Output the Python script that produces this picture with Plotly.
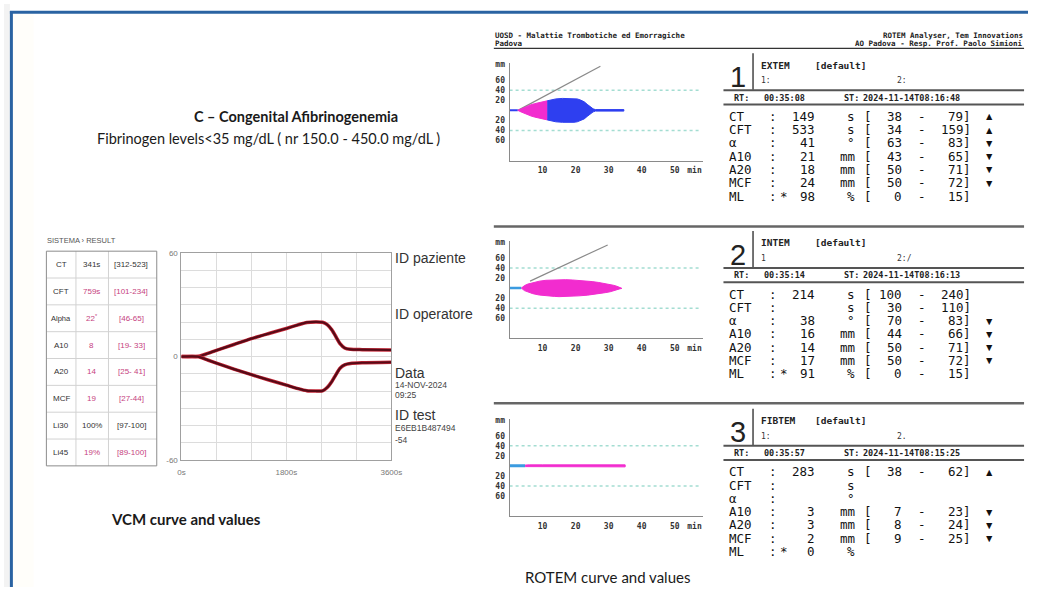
import plotly.graph_objects as go

W, H = 1039, 592

# ---------------- VCM curve (amplitude in mm vs time in s) ----------------
vcm_time_s = [0, 280, 450, 600, 900, 1200, 1500, 1800, 2000, 2150, 2300, 2420,
              2500, 2580, 2650, 2720, 2800, 2900, 3100, 3600]
vcm_upper_mm = [0, 0, 1.8, 3.6, 7.0, 10.4, 13.4, 16.3, 18.4, 19.8, 20.1, 19.9,
                18.5, 15.5, 11.5, 7.5, 5.0, 4.2, 4.0, 3.8]
vcm_lower_mm = [0, 0, -2.0, -3.8, -7.3, -10.5, -13.6, -16.6, -18.6, -19.8, -20.0, -19.9,
                -18.0, -14.5, -10.5, -6.8, -4.8, -4.0, -3.6, -3.3]

vcm_params = ["CT", "CFT", "Alpha", "A10", "A20", "MCF", "Li30", "Li45"]
vcm_values = ["341s", "759s", "22<sup>*</sup>", "8", "14", "19", "100%", "19%"]
vcm_ranges = ["[312-523]", "[101-234]", "[46-65]", "[19- 33]", "[25- 41]",
              "[27-44]", "[97-100]", "[89-100]"]
vcm_flagged = [False, True, True, True, True, True, False, True]

# ---------------- ROTEM temograms (amplitude in mm vs time in min) ----------------
rotem_tests = ["EXTEM", "INTEM", "FIBTEM"]
rotem_ct_min = [149 / 60, 214 / 60, 283 / 60]

extem_t_early = [2.48, 3.5, 4.5, 5.5, 6.5, 7.5, 8.5, 9.5, 10.5, 11.4]
extem_a_early = [0, 3.2, 6.3, 8.9, 11.2, 13.2, 15.0, 16.6, 17.9, 19.0]
extem_t_late = [11.4, 12.5, 14, 16, 18, 19.5, 20.5, 21.5, 22.6, 23.5, 24.5, 25.3, 26, 30, 34.6]
extem_a_late = [19.0, 21.0, 22.8, 23.8, 24.0, 23.8, 22.8, 20.5, 17.0, 12.0, 6.5, 3.0, 1.5, 1.5, 1.5]

intem_t = [3.57, 4.5, 5.5, 7, 9, 11, 13.6, 15, 17, 19, 21, 23.6, 25, 27, 29, 30.5,
           31.5, 32.5, 33.3, 34]
intem_a = [0, 5, 8, 11, 13.8, 15.6, 16.5, 17, 16.8, 16.2, 15.4, 14, 13, 11.2, 9, 7.2,
           5.6, 3.6, 1.6, 0.5]

fibtem_t = [4.72, 6, 10, 14.7, 20, 24.7, 30, 35]
fibtem_a = [1.5, 2, 2, 2, 2, 2, 2, 2]

extem_alpha_t = [2.5, 27.5]
extem_alpha_a = [0, 88]
intem_alpha_t = [6.2, 29.7]
intem_alpha_a = [14, 86]

rotem_ref_mm = [40, -40]

rotem_params = ["CT", "CFT", "α", "A10", "A20", "MCF", "ML"]
rotem_units = ["s", "s", "°", "mm", "mm", "mm", "%"]
extem_values = ["149", "533", "41", "21", "18", "24", "98"]
extem_low = ["38", "34", "63", "43", "50", "50", "0"]
extem_high = ["79", "159", "83", "65", "71", "72", "15"]
extem_flags = ["▲", "▲", "▼", "▼", "▼", "▼", ""]
intem_values = ["214", "", "38", "16", "14", "17", "91"]
intem_low = ["100", "30", "70", "44", "50", "50", "0"]
intem_high = ["240", "110", "83", "66", "71", "72", "15"]
intem_flags = ["", "", "▼", "▼", "▼", "▼", ""]
fibtem_values = ["283", "", "", "3", "3", "2", "0"]
fibtem_low = ["38", "", "", "7", "8", "9", ""]
fibtem_high = ["62", "", "", "23", "24", "25", ""]
fibtem_flags = ["▲", "", "", "▼", "▼", "▼", ""]
rotem_run_time = ["00:35:08", "00:35:14", "00:35:57"]
rotem_start = ["2024-11-14T08:16:48", "2024-11-14T08:16:13", "2024-11-14T08:15:25"]
rotem_ch1 = ["1:", "1", "1:"]
rotem_ch2 = ["2:", "2:/", "2."]

PINK = "#f22ccf"
BLUE = "#2e3ff0"
LIGHT_BLUE = "#3b9be0"
VCM_PINK = "#c63f80"
MONO = "DejaVu Sans Mono"
SANS = "Liberation Sans"
TITLE = "Lato"


def X(px):
    return px / W


def Y(py):
    return 1 - py / H


annotations = []
shapes = []


def text(x, y, s, size, color="#1e1e1e", family=SANS, anchor="left", weight="normal"):
    annotations.append(dict(
        x=X(x), y=Y(y), xref="paper", yref="paper", text=s, showarrow=False,
        xanchor=anchor, yanchor="middle", borderpad=0,
        font=dict(size=size, color=color, family=family, weight=weight)))


def line(x0, y0, x1, y1, color, width):
    shapes.append(dict(type="line", xref="paper", yref="paper",
                       x0=X(x0), y0=Y(y0), x1=X(x1), y1=Y(y1),
                       line=dict(color=color, width=width)))


def rect(x0, y0, x1, y1, fill, color=None, width=0):
    shapes.append(dict(type="rect", xref="paper", yref="paper", layer="below",
                       x0=X(x0), y0=Y(y0), x1=X(x1), y1=Y(y1), fillcolor=fill,
                       line=dict(color=color or fill, width=width)))


fig = go.Figure()

# ---------------- page frame ----------------
rect(0, 0, 6, H, "#f3f3f3")
rect(9, 10, 30, H, "#fffefa")
line(7.5, 7, 7.5, H, "#2a63a2", 3)
line(6, 8.5, W, 8.5, "#2a63a2", 3)

# ---------------- titles ----------------
text(296, 114, "C – Congenital Afibrinogenemia", 14.5, "#1a1a1a", TITLE, "center", "bold")
text(268, 137, "Fibrinogen levels<35 mg/dL ( nr 150.0 - 450.0 mg/dL )", 14.5, "#1a1a1a", TITLE, "center")
text(185, 523, "VCM curve and values", 15, "#1a1a1a", TITLE, "center", "bold")
text(612, 582, "ROTEM curve and values", 15, "#1a1a1a", TITLE, "center")

# ---------------- VCM table ----------------
text(43, 240, "SISTEMA › RESULT", 7.5, "#555")
tab_x0, tab_x1, tab_y0, tab_y1 = 43, 155, 251, 469
row_h = (tab_y1 - tab_y0) / len(vcm_params)
for i in range(1, len(vcm_params)):
    line(tab_x0, tab_y0 + i * row_h, tab_x1, tab_y0 + i * row_h, "#d2d2d2", 1)
line(73, tab_y0, 73, tab_y1, "#d2d2d2", 1)
line(106, tab_y0, 106, tab_y1, "#d2d2d2", 1)
shapes.append(dict(type="rect", xref="paper", yref="paper",
                   x0=X(tab_x0), y0=Y(tab_y0), x1=X(tab_x1), y1=Y(tab_y1),
                   line=dict(color="#8c8c8c", width=1)))
for i, p in enumerate(vcm_params):
    yc = tab_y0 + (i + 0.5) * row_h
    col = VCM_PINK if vcm_flagged[i] else "#333"
    text(58, yc, p, 8 if p != "Alpha" else 7.5, "#333", SANS, "center")
    text(89, yc, vcm_values[i], 8, col, SANS, "center")
    text(129, yc, vcm_ranges[i], 8, col, SANS, "center")

# ---------------- VCM curve ----------------
for series in (vcm_upper_mm, vcm_lower_mm):
    fig.add_trace(go.Scatter(x=vcm_time_s, y=series, mode="lines", xaxis="x", yaxis="y",
                             line=dict(color="#c82838", width=3.5, shape="spline", smoothing=0.6),
                             hoverinfo="skip", showlegend=False))
    fig.add_trace(go.Scatter(x=vcm_time_s, y=series, mode="lines", xaxis="x", yaxis="y",
                             line=dict(color="#560b17", width=2.2, shape="spline", smoothing=0.6),
                             hoverinfo="skip", showlegend=False))

text(396, 258, "ID paziente", 14, "#333")
text(396, 315, "ID operatore", 14, "#333")
text(396, 375, "Data", 14, "#333")
text(396, 387, "14-NOV-2024", 8.5, "#444")
text(396, 397, "09:25", 8.5, "#444")
text(396, 417, "ID test", 14, "#333")
text(396, 431, "E6EB1B487494", 8.5, "#444")
text(396, 443, "-54", 8.5, "#444")

# ---------------- ROTEM header ----------------
text(497, 31.5, "UOSD - Malattie Trombotiche ed Emorragiche", 7.5, "#222", MONO, weight="bold")
text(497, 40.5, "Padova", 7.5, "#222", MONO, weight="bold")
text(1035, 31.5, "ROTEM Analyser, Tem Innovations", 7.5, "#222", MONO, "right", "bold")
text(1035, 40.5, "AO Padova - Resp. Prof. Paolo Simioni", 7.5, "#222", MONO, "right", "bold")
line(497, 45, 1035, 45, "#333", 1.2)
line(497, 226, 1035, 226, "#666", 2.5)
line(497, 405.5, 1035, 405.5, "#666", 2.5)

PANEL_STEP = 180.5
rotem_values = [extem_values, intem_values, fibtem_values]
rotem_low = [extem_low, intem_low, fibtem_low]
rotem_high = [extem_high, intem_high, fibtem_high]
rotem_flags = [extem_flags, intem_flags, fibtem_flags]

layout_axes = {}
for k in range(3):
    dy = PANEL_STEP * k
    base = 108 + dy
    xa, ya = f"x{k + 2}", f"y{k + 2}"

    # amplitude traces
    def blob(t, a, color):
        fig.add_trace(go.Scatter(
            x=t + t[::-1], y=a + [-v for v in a[::-1]], mode="lines", fill="toself",
            fillcolor=color, line=dict(color=color, width=1), xaxis=xa, yaxis=ya,
            hoverinfo="skip", showlegend=False))

    for lvl in rotem_ref_mm:
        fig.add_trace(go.Scatter(x=[0, 58], y=[lvl, lvl], mode="lines", xaxis=xa, yaxis=ya,
                                 line=dict(color="#a4ddd2", width=1.5, dash="dot"),
                                 hoverinfo="skip", showlegend=False))
    if k == 0:
        fig.add_trace(go.Scatter(x=extem_alpha_t, y=extem_alpha_a, mode="lines", xaxis=xa, yaxis=ya,
                                 line=dict(color="#8a8a8a", width=1.2), hoverinfo="skip", showlegend=False))
        fig.add_trace(go.Scatter(x=[0, rotem_ct_min[k]], y=[0, 0], mode="lines", xaxis=xa, yaxis=ya,
                                 line=dict(color=BLUE, width=2), hoverinfo="skip", showlegend=False))
        blob(extem_t_early, extem_a_early, PINK)
        blob(extem_t_late, extem_a_late, BLUE)
    elif k == 1:
        fig.add_trace(go.Scatter(x=intem_alpha_t, y=intem_alpha_a, mode="lines", xaxis=xa, yaxis=ya,
                                 line=dict(color="#8a8a8a", width=1.2), hoverinfo="skip", showlegend=False))
        fig.add_trace(go.Scatter(x=[0, rotem_ct_min[k]], y=[0, 0], mode="lines", xaxis=xa, yaxis=ya,
                                 line=dict(color=LIGHT_BLUE, width=2.5), hoverinfo="skip", showlegend=False))
        blob(intem_t, intem_a, PINK)
    else:
        fig.add_trace(go.Scatter(x=[0, rotem_ct_min[k]], y=[0, 0], mode="lines", xaxis=xa, yaxis=ya,
                                 line=dict(color=LIGHT_BLUE, width=3), hoverinfo="skip", showlegend=False))
        blob(fibtem_t, fibtem_a, PINK)

    tickfont = dict(size=8, color="#333", family=MONO, weight="bold")
    layout_axes[f"xaxis{k + 2}"] = dict(
        domain=[X(513), X(709)], range=[0, 58.5], anchor=ya,
        tickvals=[10, 20, 30, 40, 50, 56], ticktext=["10", "20", "30", "40", "50", "min"],
        showgrid=False, zeroline=False, showline=True, linecolor="#8a8a8a", linewidth=1,
        ticks="", tickfont=tickfont, ticklabelstandoff=2, fixedrange=True)
    layout_axes[f"yaxis{k + 2}"] = dict(
        domain=[Y(base + 51), Y(base - 48)], range=[-51 / 0.51, 48 / 0.51], anchor=xa,
        tickvals=[-60, -40, -20, 20, 40, 60, 91],
        ticktext=["60", "40", "20", "20", "40", "60", "mm"],
        showgrid=False, zeroline=False, showline=True, linecolor="#8a8a8a", linewidth=1,
        ticks="", tickfont=tickfont, ticklabelstandoff=2, fixedrange=True)

    # result block
    text(745, 74 + dy, str(k + 1), 29, "#222", SANS, "center")
    line(760, 50 + dy, 760, 87 + dy, "#444", 1.5)
    text(767, 62 + dy, rotem_tests[k], 9.5, "#222", MONO, weight="bold")
    text(822, 62 + dy, "[default]", 9.5, "#222", MONO, weight="bold")
    text(767, 78 + dy, rotem_ch1[k], 8, "#333", MONO)
    text(905, 78 + dy, rotem_ch2[k], 8, "#333", MONO)
    line(730, 87.5 + dy, 1035, 87.5 + dy, "#555", 2)
    text(740, 95 + dy, "RT:", 8.5, "#222", MONO, weight="bold")
    text(770, 95 + dy, rotem_run_time[k], 8.5, "#222", MONO, weight="bold")
    text(851, 95 + dy, "ST:", 8.5, "#222", MONO, weight="bold")
    text(871, 95 + dy, rotem_start[k], 8.5, "#222", MONO, weight="bold")
    line(730, 102 + dy, 1035, 102 + dy, "#555", 2)

    for i, p in enumerate(rotem_params):
        yr = 114 + 13.5 * i + dy
        text(735, yr, p, 12.5, "#111", MONO)
        text(780, yr, ":", 12.5, "#111", MONO, "center")
        if p == "ML":
            text(791, yr, "*", 12.5, "#111", MONO, "center")
        if rotem_values[k][i]:
            text(824, yr, rotem_values[k][i], 12.5, "#111", MONO, "right")
        text(864, yr, rotem_units[i], 12.5, "#111", MONO, "right")
        if rotem_low[k][i]:
            text(877, yr, "[", 12.5, "#111", MONO, "center")
            text(912, yr, rotem_low[k][i], 12.5, "#111", MONO, "right")
            text(931, yr, "-", 12.5, "#111", MONO, "center")
            text(982, yr, rotem_high[k][i] + "]", 12.5, "#111", MONO, "right")
        if rotem_flags[k][i]:
            text(999, yr, rotem_flags[k][i], 10.5, "#111", SANS, "center")

vcm_tickfont = dict(size=8, color="#777", family=SANS)
fig.update_layout(
    width=W, height=H, autosize=False,
    margin=dict(l=0, r=0, t=0, b=0),
    paper_bgcolor="white", plot_bgcolor="white",
    showlegend=False,
    xaxis=dict(domain=[X(180), X(393)], range=[0, 3600], anchor="y",
               tickvals=list(range(0, 3601, 600)),
               ticktext=["0s", "", "", "1800s", "", "", "3600s"],
               showgrid=True, gridcolor="#dcdcdc", gridwidth=1, zeroline=False,
               showline=True, linecolor="#a0a0a0", mirror=True, ticks="",
               tickfont=vcm_tickfont, ticklabelstandoff=4, fixedrange=True),
    yaxis=dict(domain=[Y(463), Y(253)], range=[-60, 60], anchor="x",
               tickvals=list(range(-60, 61, 10)),
               ticktext=["-60", "", "", "", "", "", "0", "", "", "", "", "", "60"],
               showgrid=True, gridcolor="#dcdcdc", gridwidth=1, zeroline=False,
               showline=True, linecolor="#a0a0a0", mirror=True, ticks="",
               tickfont=vcm_tickfont, ticklabelstandoff=1, fixedrange=True),
    annotations=annotations,
    shapes=shapes,
    **layout_axes,
)

fig.write_html("out.html")
